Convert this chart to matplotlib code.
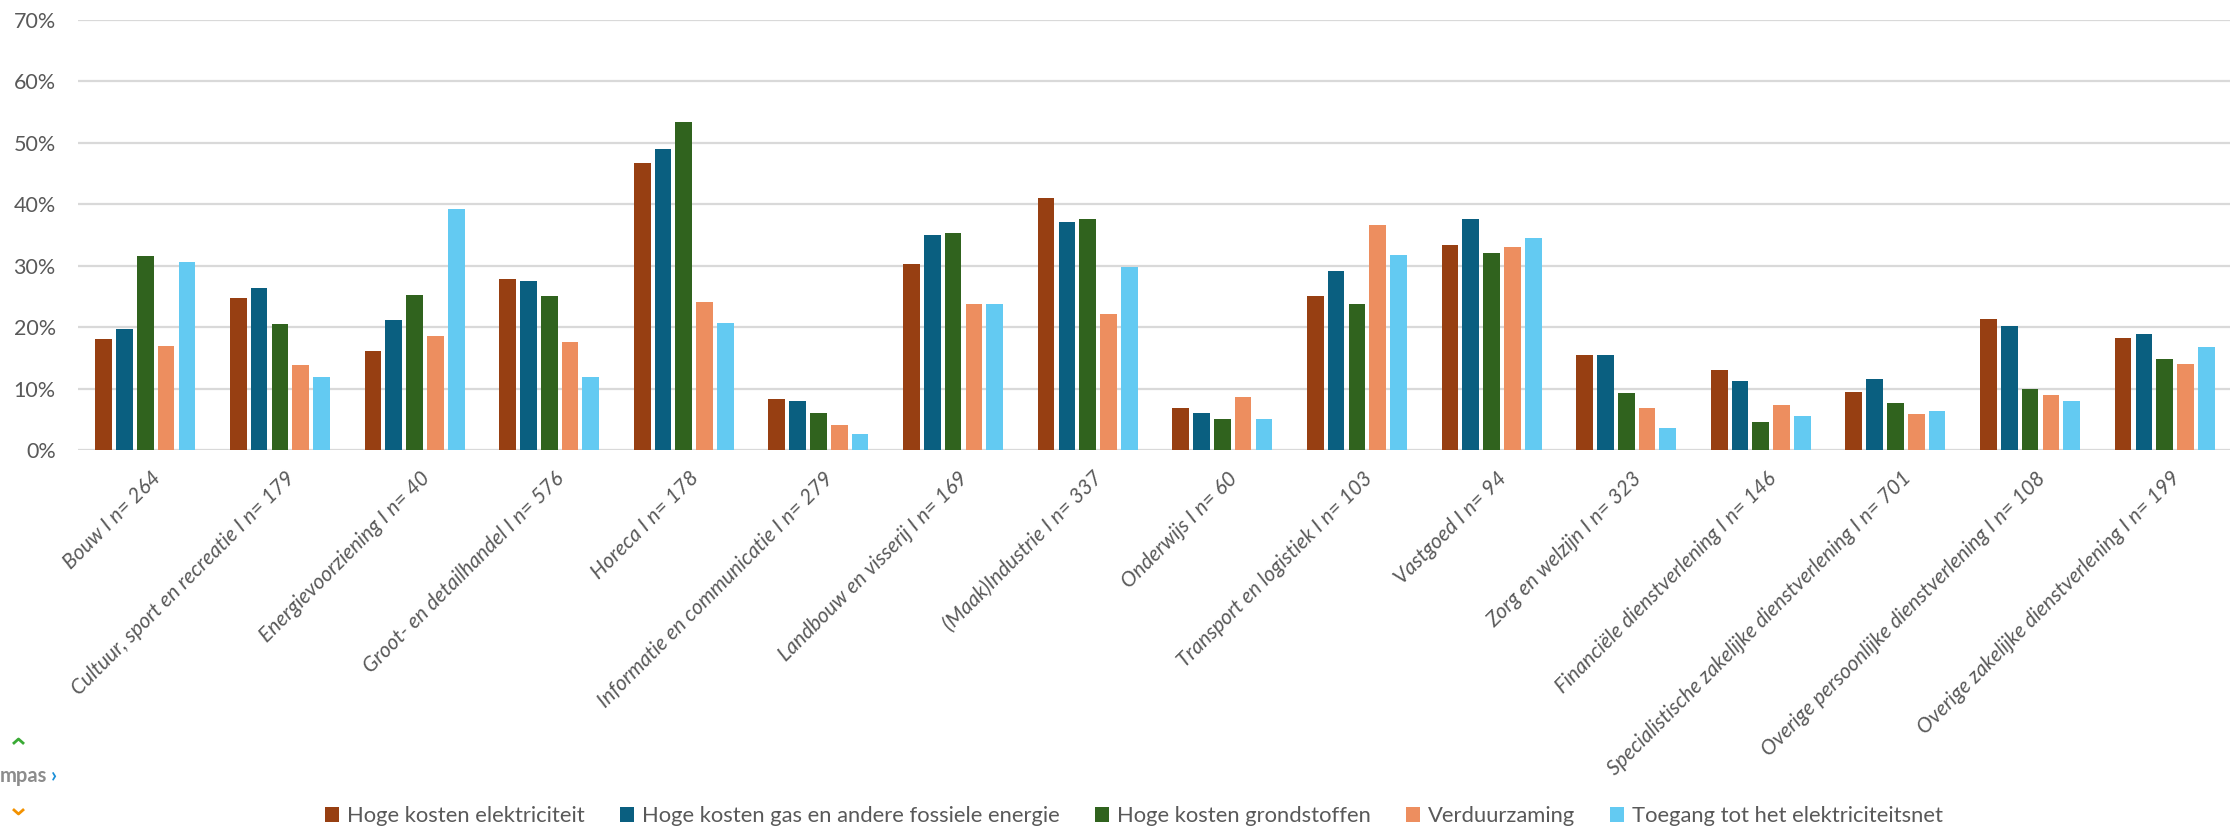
import numpy as np
import matplotlib
matplotlib.use("Agg")
import matplotlib.pyplot as plt
import matplotlib.transforms as mtransforms
from matplotlib.lines import Line2D
from matplotlib.patches import Patch

plt.rcParams['font.family'] = ['Lato', 'DejaVu Sans']

# sectors with sample size
categories = [
    "Bouw I n= 264",
    "Cultuur, sport en recreatie I n= 179",
    "Energievoorziening I n= 40",
    "Groot- en detailhandel I n= 576",
    "Horeca I n= 178",
    "Informatie en communicatie I n= 279",
    "Landbouw en visserij I n= 169",
    "(Maak)Industrie I n= 337",
    "Onderwijs I n= 60",
    "Transport en logistiek I n= 103",
    "Vastgoed I n= 94",
    "Zorg en welzijn I n= 323",
    "Financiële dienstverlening I n= 146",
    "Specialistische zakelijke dienstverlening I n= 701",
    "Overige persoonlijke dienstverlening I n= 108",
    "Overige zakelijke dienstverlening I n= 199",
]

series_names = [
    "Hoge kosten elektriciteit",
    "Hoge kosten gas en andere fossiele energie",
    "Hoge kosten grondstoffen",
    "Verduurzaming",
    "Toegang tot het elektriciteitsnet",
]

# values in %
elektriciteit = [18.0, 24.7, 16.1, 27.8, 46.7, 8.3, 30.3, 41.0, 6.8, 25.1, 33.3, 15.5, 13.0, 9.5, 21.3, 18.3]
gas_fossiel = [19.7, 26.4, 21.1, 27.5, 48.9, 7.9, 35.0, 37.1, 6.0, 29.1, 37.5, 15.4, 11.3, 11.6, 20.1, 18.9]
grondstoffen = [31.6, 20.5, 25.2, 25.1, 53.4, 6.1, 35.3, 37.6, 5.0, 23.8, 32.1, 9.2, 4.6, 7.7, 10.0, 14.8]
verduurzaming = [16.9, 13.8, 18.6, 17.6, 24.1, 4.1, 23.7, 22.2, 8.6, 36.6, 33.0, 6.8, 7.3, 5.9, 8.9, 14.0]
elektriciteitsnet = [30.6, 11.8, 39.2, 11.8, 20.7, 2.6, 23.8, 29.8, 5.0, 31.8, 34.5, 3.6, 5.6, 6.4, 8.0, 16.7]

colors = ["#973F12", "#0A5F80", "#30631E", "#ED8E5F", "#63CAF2"]
text_grey = "#595959"

W, H = 2230, 827
fig = plt.figure(figsize=(W / 100, H / 100), dpi=100)
ax = fig.add_axes([78 / W, 1 - 450 / H, (2232 - 78) / W, (450 - 19.7) / H])

x = np.arange(len(categories))
step = 0.1545
bw = 0.124
all_series = [elektriciteit, gas_fossiel, grondstoffen, verduurzaming, elektriciteitsnet]
for i, (vals, col, name) in enumerate(zip(all_series, colors, series_names)):
    ax.bar(x + (i - 2) * step, np.array(vals) / 100, bw, color=col, label=name, zorder=3)

ax.set_xlim(-0.5, len(categories) - 0.5)
ax.set_ylim(0, 0.70)
ax.set_yticks(np.arange(0, 0.71, 0.1))
ax.set_yticklabels([f"{int(round(v * 100))}%" for v in np.arange(0, 0.71, 0.1)],
                   fontsize=15.5, color=text_grey)
ax.grid(axis='y', color="#d9d9d9", linewidth=1.6, zorder=0)
ax.set_axisbelow(True)
for s in ax.spines.values():
    s.set_visible(False)
ax.tick_params(axis='both', length=0)
ax.tick_params(axis='y', pad=16)

ax.set_xticks(x)
ax.set_xticklabels(categories, rotation=45, ha='right', va='top', rotation_mode='anchor',
                   fontsize=15, style='italic', color=text_grey)
ax.tick_params(axis='x', pad=13)
shift = mtransforms.ScaledTranslation(5 / 100, 0, fig.dpi_scale_trans)
for lbl in ax.get_xticklabels():
    lbl.set_transform(lbl.get_transform() + shift)

handles = [Patch(facecolor=c, edgecolor='none') for c in colors]
fig.legend(handles, series_names, loc='center', bbox_to_anchor=(1134 / W, 1 - 816 / H),
           ncol=5, frameon=False, fontsize=15.8, labelcolor=text_grey,
           handlelength=0.65, handleheight=0.65, handletextpad=0.35, columnspacing=1.6)

# cut-off logo at the left edge
fig.text(0, 1 - 776 / H, "mpas", fontsize=14.5, color="#8c8c8c", fontweight='bold',
         ha='left', va='center')
fig.text(51 / W, 1 - 775 / H, "›", fontsize=15, color="#1a8fd8", fontweight='bold',
         ha='left', va='center')
fig.add_artist(Line2D([14 / W, 18.5 / W, 23 / W], [1 - 743 / H, 1 - 739 / H, 1 - 743 / H],
                      color="#3aaa35", linewidth=2, transform=fig.transFigure))
fig.add_artist(Line2D([14 / W, 18.5 / W, 23 / W], [1 - 810 / H, 1 - 814 / H, 1 - 810 / H],
                      color="#f39200", linewidth=2, transform=fig.transFigure))

fig.savefig("out.png", dpi=100, facecolor='white')
